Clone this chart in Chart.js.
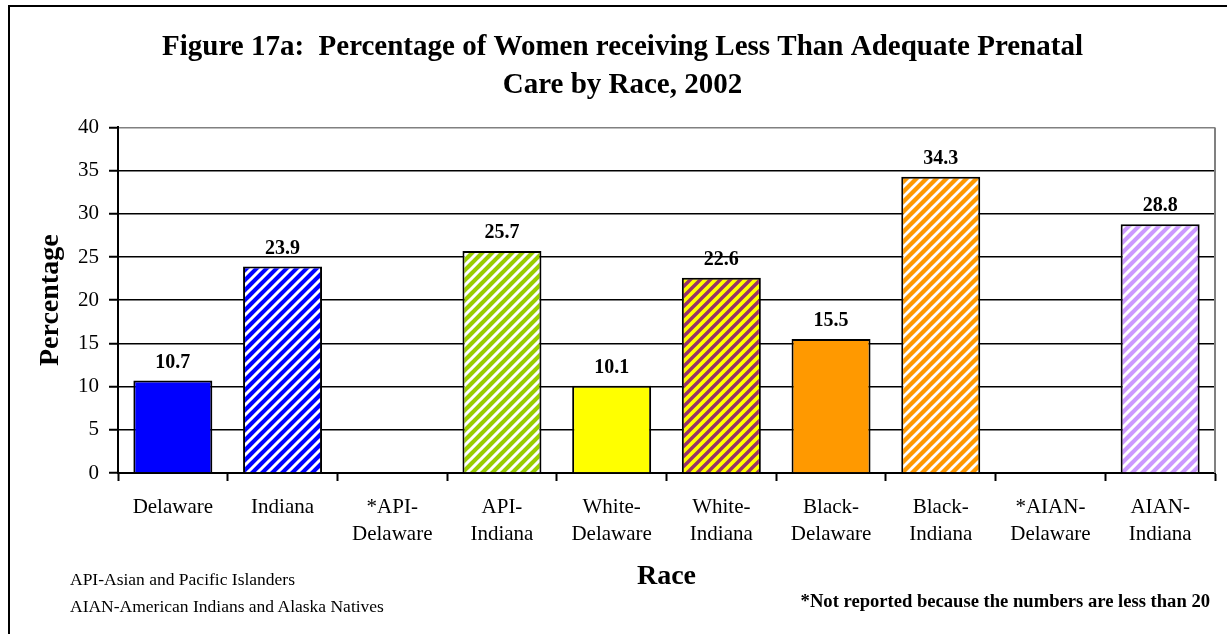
<!DOCTYPE html>
<html>
<head>
<meta charset="UTF-8">
<title>Figure 17a</title>
<script src="https://cdn.jsdelivr.net/npm/chart.js"></script>
<style>
  body { margin: 0; background: #fff; }
  #wrap { position: relative; width: 1227px; height: 634px; overflow: hidden; }
  #frame { position: absolute; left: 8px; top: 5px; width: 1300px; height: 700px; border: 2px solid #000; }
  #chart { position: absolute; left: 0; top: 0; }
  .note { position: absolute; font-family: "Liberation Serif", "Times New Roman", serif; font-size: 17.5px; color: #000; white-space: nowrap; }
</style>
</head>
<body>
<div id="wrap">
  <div id="frame"></div>
  <canvas id="chart" width="1227" height="634"></canvas>
  <div class="note" style="left:70px; top:569px;">API-Asian and Pacific Islanders</div>
  <div class="note" style="left:70px; top:596px;">AIAN-American Indians and Alaska Natives</div>
  <div class="note" style="right:17px; top:590px; font-weight:bold; font-size:18.6px;">*Not reported because the numbers are less than 20</div>
</div>
<script>
// chart data
var categories = [
  ['Delaware'], ['Indiana'], ['*API-', 'Delaware'], ['API-', 'Indiana'],
  ['White-', 'Delaware'], ['White-', 'Indiana'], ['Black-', 'Delaware'],
  ['Black-', 'Indiana'], ['*AIAN-', 'Delaware'], ['AIAN-', 'Indiana']
];
var percentages = [10.7, 23.9, null, 25.7, 10.1, 22.6, 15.5, 34.3, null, 28.8];
var yTitle = 'Percentage';
var xTitle = 'Race';
var chartTitle = ['Figure 17a:  Percentage of Women receiving Less Than Adequate Prenatal', 'Care by Race, 2002'];

var serif = '"Liberation Serif", "Times New Roman", serif';

// striped fill, stripes going up to the right
function stripes(bg, fg, w) {
  var c = document.createElement('canvas');
  var s = 10;
  c.width = s; c.height = s;
  var g = c.getContext('2d');
  g.fillStyle = bg;
  g.fillRect(0, 0, s, s);
  g.strokeStyle = fg;
  g.lineWidth = w;
  g.beginPath();
  g.moveTo(-2, 2); g.lineTo(2, -2);
  g.moveTo(0, s); g.lineTo(s, 0);
  g.moveTo(s - 2, s + 2); g.lineTo(s + 2, s - 2);
  g.stroke();
  return g.createPattern(c, 'repeat');
}
var fills = [
  '#0000FF',
  stripes('#0000FF', '#FFFFFF', 3),
  '#FFFFFF',
  stripes('#99CC00', '#FFFFFF', 3),
  '#FFFF00',
  stripes('#FFFF00', '#993366', 3.4),
  '#FF9900',
  stripes('#FF9900', '#FFFFFF', 2.8),
  '#FFFFFF',
  stripes('#CC99FF', '#FFFFFF', 3)
];

var extras = {
  id: 'extras',
  afterDatasetsDraw: function(chart) {
    var ctx = chart.ctx;
    var meta = chart.getDatasetMeta(0);
    ctx.save();
    ctx.font = 'bold 20px ' + serif;
    ctx.fillStyle = '#000';
    ctx.textAlign = 'center';
    ctx.textBaseline = 'bottom';
    meta.data.forEach(function(bar, i) {
      var v = percentages[i];
      if (v === null) return;
      ctx.fillText(v.toFixed(1), bar.x, bar.y - 8);
    });
    var a = chart.chartArea;
    ctx.strokeStyle = '#808080';
    ctx.lineWidth = 2;
    ctx.beginPath();
    ctx.moveTo(a.right, a.top);
    ctx.lineTo(a.right, a.bottom);
    ctx.stroke();
    ctx.restore();
  }
};

new Chart(document.getElementById('chart'), {
  type: 'bar',
  data: {
    labels: categories,
    datasets: [{
      data: percentages,
      backgroundColor: fills,
      borderColor: '#000',
      borderWidth: 2,
      barPercentage: 0.72,
      categoryPercentage: 1
    }]
  },
  plugins: [extras],
  options: {
    responsive: false,
    animation: false,
    layout: { padding: { left: 30, right: 12, top: 6, bottom: 40 } },
    plugins: {
      legend: { display: false },
      tooltip: { enabled: false },
      title: {
        display: true,
        text: chartTitle,
        color: '#000',
        font: { family: serif, size: 29, weight: 'bold', lineHeight: 1.3 },
        padding: { top: 23, bottom: 23 }
      }
    },
    scales: {
      x: {
        offset: true,
        afterFit: function(s) { s.height = 121; },
        grid: { offset: true, drawOnChartArea: false, tickLength: 8, tickColor: '#000', tickWidth: 2 },
        border: { color: '#000', width: 2 },
        ticks: { color: '#000', padding: 13, maxRotation: 0, autoSkip: false,
                 font: { family: serif, size: 21, lineHeight: 1.3 } },
        title: { display: true, text: xTitle, color: '#000', padding: { top: 0, bottom: 0 },
                 font: { family: serif, size: 28, weight: 'bold', lineHeight: 1.2 } }
      },
      y: {
        min: 0,
        max: 40,
        afterFit: function(s) { s.width = 88; },
        grid: {
          color: function(c) { return c.tick && c.tick.value === 40 ? '#808080' : '#000'; },
          lineWidth: 1.5,
          tickLength: 9,
          tickColor: '#000',
          tickWidth: 2
        },
        border: { color: '#000', width: 2 },
        ticks: { stepSize: 5, color: '#000', padding: 10, font: { family: serif, size: 21 } },
        title: { display: true, text: yTitle, color: '#000', padding: { top: 4, bottom: 0 },
                 font: { family: serif, size: 28, weight: 'bold', lineHeight: 1.2 } }
      }
    }
  }
});
</script>
</body>
</html>
